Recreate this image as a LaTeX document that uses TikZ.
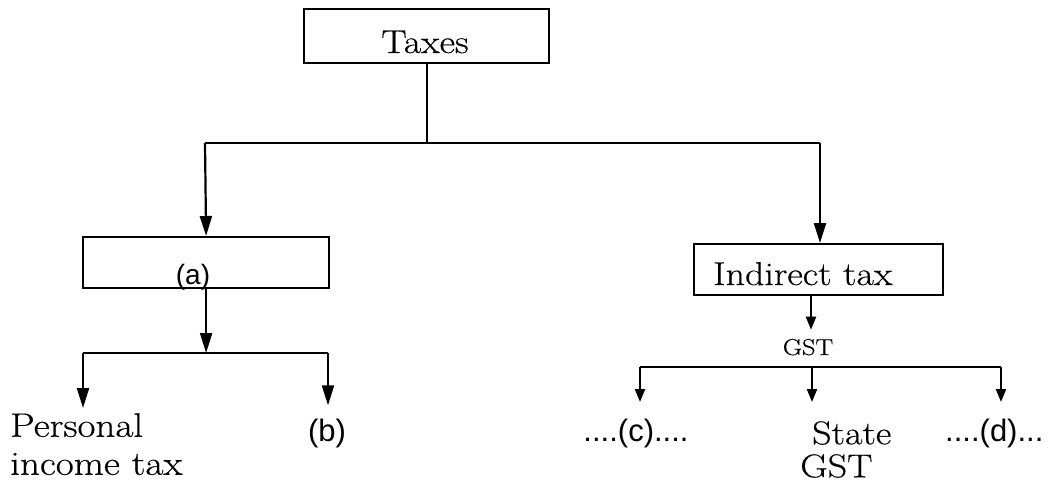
\documentclass[tikz,border=0pt]{standalone}
\usepackage{fontspec}
\setmainfont{Latin Modern Roman}[FakeStretch=1.15, FakeBold=0.4]
\newfontfamily\labelsans{Liberation Sans}
\usetikzlibrary{arrows.meta}
\begin{document}
\begin{tikzpicture}[x=1pt,y=-1pt,
  box/.style={draw, line width=2.2pt, inner sep=0pt, anchor=north west},
  link/.style={line width=2.2pt},
  bigarrow/.style={link, -{Triangle[length=20pt,width=12pt]}},
  smallarrow/.style={link, -{Triangle[length=13pt,width=10pt]}},
  serif/.style={font=\fontsize{33}{33}\selectfont, inner sep=0pt},
  bigserif/.style={font=\fontsize{34}{38}\selectfont, inner sep=0pt},
  sans/.style={font=\labelsans\fontsize{31}{38}\selectfont, inner sep=0pt},
]
\useasboundingbox (0,0) rectangle (1057,484);

% boxes
\node[box, minimum width=245pt, minimum height=54pt] (taxes) at (303,8) {};
\node[serif, anchor=base] (taxesT) at (425,53) {Taxes};
\node[box, minimum width=246pt, minimum height=51pt] (boxa) at (82,236) {};
\node[sans, font=\labelsans\fontsize{28}{34}\selectfont] (aT) at (193,277) {(a)};
\node[box, minimum width=249pt, minimum height=51pt] (ind) at (693,243) {};
\node[serif, anchor=base west] (indT) at (713,285) {Indirect tax};

% leaf labels
\node[bigserif, align=left, anchor=north west] (personal) at (10,413) {Personal\\income tax};
\node[sans] (b) at (327,433) {(b)};
\node[serif, font=\fontsize{23}{28}\selectfont, anchor=base] (gst) at (808,355) {GST};
\node[sans] (c) at (636,433) {....(c)....};
\node[serif, align=left, anchor=north west] (state) at (800,421) {\hspace{12pt}State\\GST};
\node[sans, anchor=west] (d) at (945,433) {....(d)...};

% junctions
\coordinate (hbarL) at (205,143);
\coordinate (hbarR) at (820,143);
\coordinate (lbarL) at (83,353);
\coordinate (lbarR) at (328,353);
\coordinate (rbarL) at (640,367);
\coordinate (rbarM) at (812,367);
\coordinate (rbarR) at (1001,367);

% connectors
\draw[link] (taxes.south) -- (taxes.south |- hbarL);
\draw[link] (hbarL) -- (hbarR);
\draw[bigarrow] (hbarL) -- (boxa.north);
\draw[bigarrow] (hbarR) -- (hbarR |- ind.north);
\draw[bigarrow] (boxa.south) -- (boxa.south |- lbarL);
\draw[link] (lbarL) -- (lbarR);
\draw[bigarrow, shorten >=5pt] (lbarL) -- (lbarL |- personal.north);
\draw[bigarrow, shorten >=13pt] (lbarR) -- (lbarR |- b.north);
\draw[smallarrow, shorten >=9pt] ([xshift=3pt]ind.south -| gst.north) -- ([xshift=3pt]gst.north);
\draw[link] (rbarL) -- (rbarR);
\draw[smallarrow] (rbarL) -- ++(0,35);
\draw[smallarrow] (rbarM) -- ++(0,35);
\draw[smallarrow] (rbarR) -- ++(0,35);
\end{tikzpicture}
\end{document}
